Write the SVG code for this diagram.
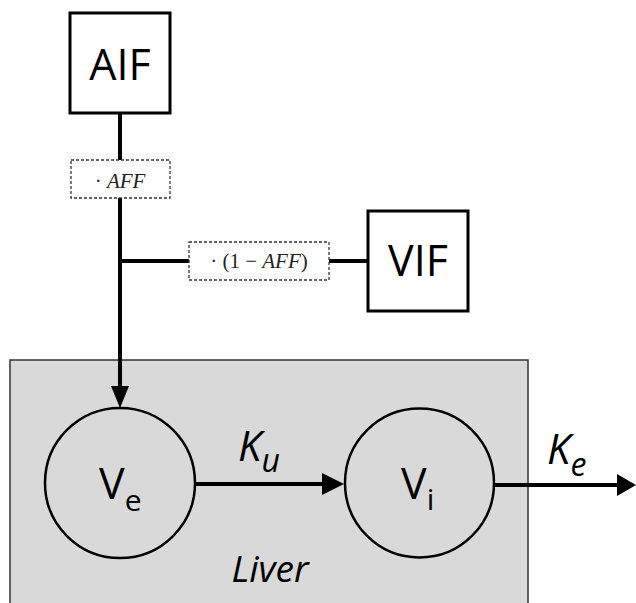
<svg xmlns="http://www.w3.org/2000/svg" width="636" height="603" viewBox="0 0 636 603">
<style>
.box{fill:#fff;stroke:#000;stroke-width:3}
.dash{fill:#fff;stroke:#333;stroke-width:1.3;stroke-dasharray:3 2}
.circ{fill:#d9d9d9;stroke:#000;stroke-width:2.5}
.big{font-family:"Open Sans","Noto Sans",sans-serif;font-size:43px;fill:#000;text-anchor:middle}
.math{font-family:"Liberation Serif",serif;font-size:21px;fill:#222;text-anchor:middle}
.k{font-family:"Open Sans","Noto Sans",sans-serif;font-style:italic;font-size:42px;fill:#000}
.v{font-family:"Open Sans","Noto Sans",sans-serif;font-size:43px;fill:#000}
.line{stroke:#000;stroke-width:4;fill:none}
</style>
<g id="liver">
<rect x="10" y="360" width="518" height="250" fill="#d9d9d9" stroke="#333" stroke-width="1.5"/>
<text x="270" y="582" font-family="'Open Sans','Noto Sans',sans-serif" font-style="italic" font-size="37" text-anchor="middle">Liver</text>
</g>
<g id="connectors">
<line class="line" x1="120" y1="113" x2="120" y2="160"/>
<line class="line" x1="120" y1="198" x2="120" y2="386"/>
<line class="line" x1="120" y1="261" x2="189" y2="261"/>
<line class="line" x1="329" y1="261" x2="368" y2="261"/>
<line class="line" x1="195" y1="484" x2="322" y2="484"/>
<line class="line" x1="494" y1="485" x2="618" y2="485"/>
<path d="M111,386 L129,386 L120,408 Z" fill="#000"/>
<path d="M322,473 L344,484 L322,495 Z" fill="#000"/>
<path d="M617,474 L636,485 L617,496 Z" fill="#000"/>
<g id="label-aff">
<rect class="dash" x="71" y="160" width="99" height="38"/>
<text class="math" x="120" y="188"><tspan font-style="normal">· </tspan><tspan font-style="italic">AFF</tspan></text>
</g>
<g id="label-1maff">
<rect class="dash" x="189" y="242" width="140" height="38"/>
<text class="math" x="259" y="268"><tspan>· (1 − </tspan><tspan font-style="italic">AFF</tspan><tspan>)</tspan></text>
</g>
<g id="label-ku">
<text class="k" x="238" y="461">K<tspan font-size="32" dy="11">u</tspan></text>
</g>
<g id="label-ke">
<text class="k" x="547" y="464">K<tspan font-size="32" dy="12">e</tspan></text>
</g>
</g>
<g id="AIF">
<rect class="box" x="70" y="13" width="100" height="100"/>
<text class="big" x="120" y="80">AIF</text>
</g>
<g id="VIF">
<rect class="box" x="368" y="211" width="100" height="100"/>
<text class="big" x="418" y="276">VIF</text>
</g>
<g id="Ve">
<circle class="circ" cx="120" cy="483" r="75"/>
<text class="v" x="99" y="499">V<tspan font-size="30" dy="12">e</tspan></text>
</g>
<g id="Vi">
<circle class="circ" cx="419.5" cy="483" r="74.5"/>
<text class="v" x="401" y="499">V<tspan font-size="30" dy="11">i</tspan></text>
</g>
</svg>
